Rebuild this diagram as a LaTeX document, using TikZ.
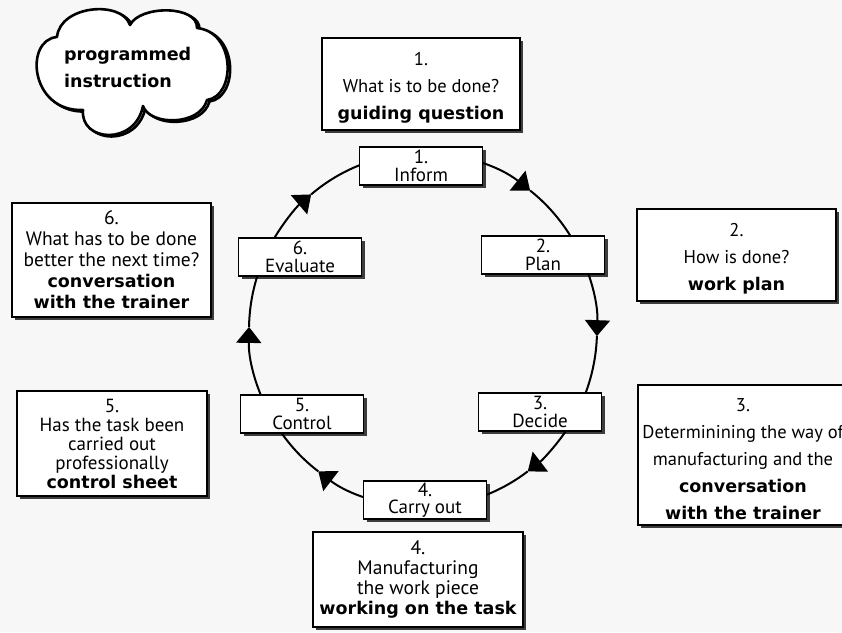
\documentclass[tikz,border=0pt]{standalone}
\usepackage{fontspec}
\setmainfont{PT Sans}
\newfontfamily\bfnt{DejaVu Sans}
\usetikzlibrary{shadows,arrows.meta}
\definecolor{bg}{HTML}{F7F7F7}
\newcommand\bld[1]{{\bfnt\bfseries\fontsize{17.5}{20}\selectfont #1}}
\newcommand\lowr{\rule{0pt}{21pt}}
\tikzset{
  shad/.style={drop shadow={shadow xshift=3pt,shadow yshift=-3pt,fill=black,opacity=0.75}},
  bigbox/.style={draw=black,line width=1.8pt,fill=white,shad,align=center,inner sep=0pt,
     font=\fontsize{18.5}{27}\selectfont},
  smallbox/.style={draw=black,line width=1.8pt,fill=white,shad,align=center,inner sep=0pt,
     minimum width=123pt,minimum height=38pt,font=\fontsize{19}{17.5}\selectfont},
  flow/.style={line width=2pt},
  flowtip/.style={flow,-{Triangle[length=16pt,width=25pt]}},
  cloudline/.style={line width=2.6pt,line join=round}
}
% arc from angle #1 to arrow tip angle #2, then on to angle #3
\newcommand\arcseg[3]{%
  \draw[flowtip] (C) ++(#1:174 and 177) arc[start angle=#1,end angle=#2,x radius=174,y radius=177];
  \draw[flow] (C) ++(#2:174 and 177) arc[start angle=#2,end angle=#3,x radius=174,y radius=177];}
\begin{document}
\begin{tikzpicture}[x=1pt,y=-1pt]
\fill[bg] (0,0) rectangle (842,632);
\useasboundingbox (0,0) rectangle (842,632);
\coordinate (C) at (423,330);
% arcs (flow between step boxes)
\arcseg{-90}{-52}{-32}
\arcseg{-32}{2}{35}
\arcseg{35}{53}{90}
\arcseg{90}{127}{145}
\arcseg{145}{181}{210.7}
\arcseg{210.7}{230}{270}
% step boxes on the circle
\node[smallbox] (s1) at (421,166) {1.\\Inform};
\node[smallbox] (s2) at (543,255) {2.\\Plan};
\node[smallbox] (s3) at (540,412) {3.\\Decide};
\node[smallbox] (s4) at (425,500) {4.\\Carry out};
\node[smallbox] (s5) at (302,414) {5.\\Control};
\node[smallbox] (s6) at (300,257) {6.\\Evaluate};
% outer boxes
\node[bigbox,minimum width=198pt,minimum height=92pt] (b1) at (421,84)
  {\lowr1.\\What is to be done?\\\bld{guiding question}};
\node[bigbox,minimum width=199pt,minimum height=92pt] (b2) at (736.5,255)
  {\lowr2.\\How is done?\\\bld{work plan}};
\node[bigbox,minimum width=210pt,minimum height=140pt] (b3) at (743,455)
  {\lowr3.\\Determinining the way of\\manufacturing and the\\\bld{conversation}\\\bld{with the trainer}};
\node[bigbox,minimum width=210pt,minimum height=95pt,font=\fontsize{19.5}{20}\selectfont] (b4) at (418,579.5)
  {4.\\Manufacturing\\the work piece\\\bld{working on the task}};
\node[bigbox,minimum width=190pt,minimum height=105pt,font=\fontsize{19}{19}\selectfont] (b5) at (112,443.5)
  {5.\\Has the task been\\carried out\\professionally\\\bld{control sheet}};
\node[bigbox,minimum width=199pt,minimum height=114pt,font=\fontsize{19.5}{21}\selectfont] (b6) at (111.5,260)
  {6.\\What has to be done\\better the next time?\\\bld{conversation}\\\bld{with the trainer}};
% cloud
\def\cloudpath{(57,37) .. controls (60,5) and (122,0) .. (130,25)
  .. controls (140,5) and (198,5) .. (197,28)
  .. controls (236,32) and (236,96) .. (207,100)
  .. controls (200,126) and (150,126) .. (143,106)
  .. controls (135,146) and (80,142) .. (83,110)
  .. controls (30,112) and (24,40) .. cycle}
\draw[cloudline,shift={(2.5,1.5)}] \cloudpath;
\filldraw[cloudline,fill=white] \cloudpath;
\node[anchor=west,align=left,inner sep=0pt,font=\fontsize{17.5}{27}\selectfont] (cl) at (64,67)
  {\bld{programmed}\\\bld{instruction}};
\end{tikzpicture}
\end{document}
